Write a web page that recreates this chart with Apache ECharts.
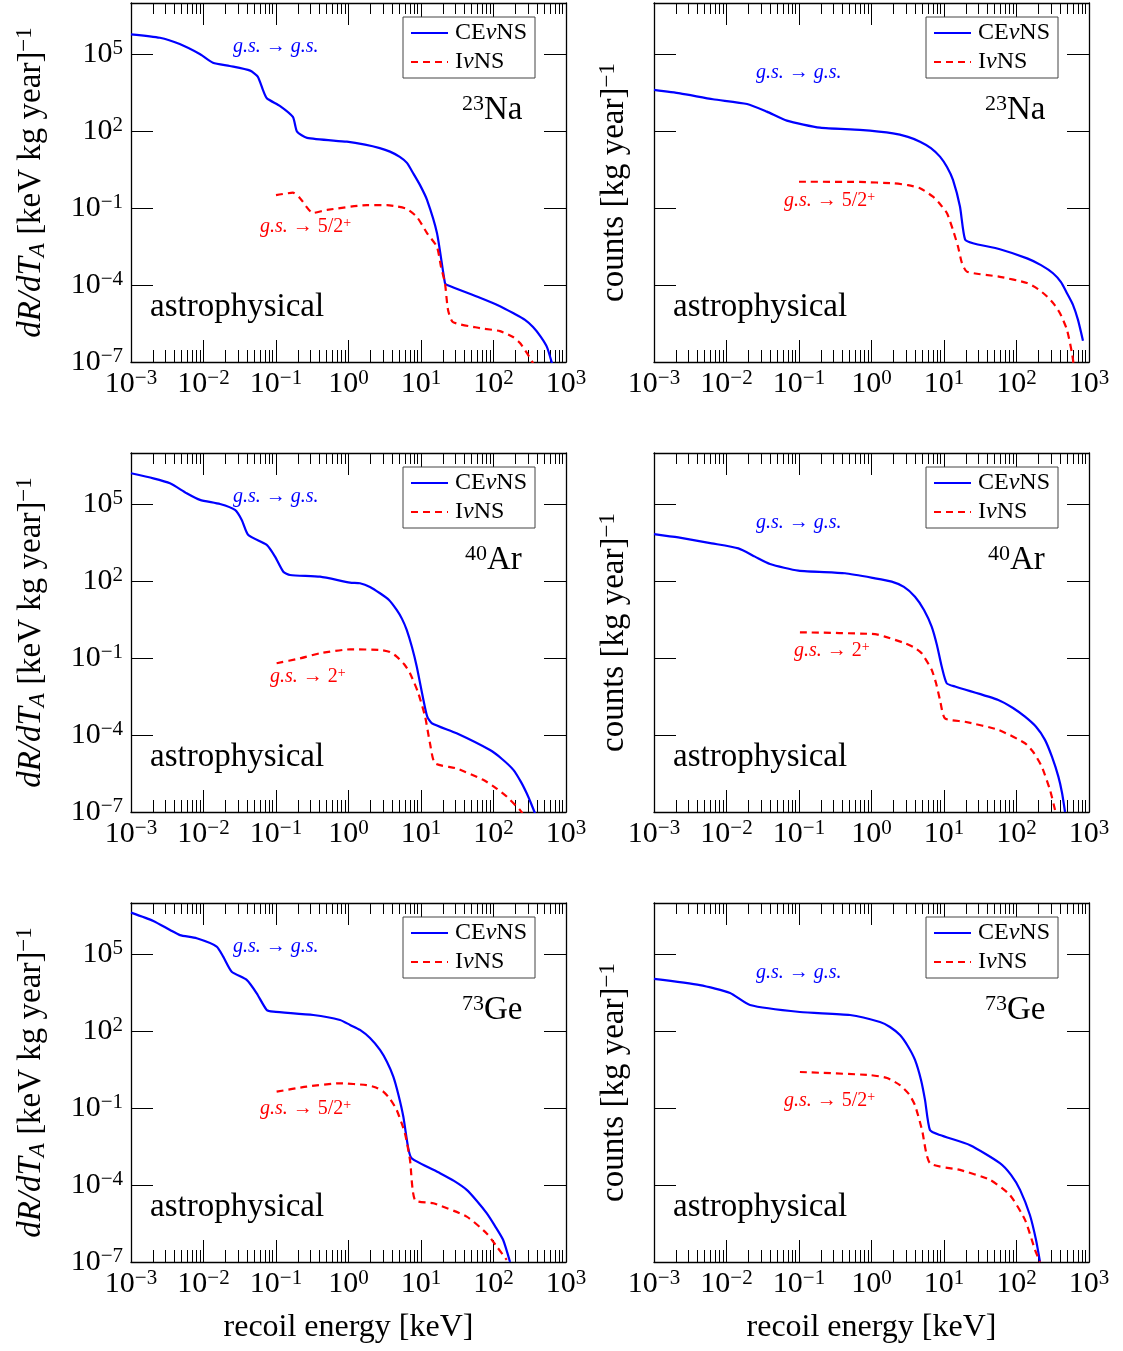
<!DOCTYPE html>
<html><head><meta charset="utf-8">
<script src="https://cdn.jsdelivr.net/npm/echarts@6/dist/echarts.min.js"></script>
<style>html,body{margin:0;padding:0;background:#fff}#c{width:1123px;height:1351px}</style>
</head><body><div id="c"></div>
<script>
// ---------------- DATA (recoil energy [keV], value) ----------------
const naRateCE = [[1e-3,6.0e5],[2.5e-3,4.4e5],[4.7e-3,2.5e5],[9.0e-3,1.0e5],[1.35e-2,4.7e4],[2.3e-2,3.5e4],[4.4e-2,2.3e4],[5.6e-2,1.35e4],[6.6e-2,4.1e3],[7.5e-2,1.9e3],[0.114,960],[0.171,360],[0.195,96],[0.268,55],[0.95,39],[1.69,30],[2.7,22],[3.73,16],[5.1,10],[6.4,5.8],[7.8,2.3],[9.7,0.79],[12.1,0.21],[16.6,0.0107],[21.4,1.2e-4],[22.9,1.0e-4],[65,3.2e-5],[123,1.5e-5],[186,8.1e-6],[272,4.4e-6],[351,2.3e-6],[452,9.4e-7],[547,3.8e-7],[640,9e-8]];
const naRateIN = [[0.1,0.32],[0.171,0.40],[0.213,0.25],[0.324,0.065],[0.505,0.085],[1.8,0.13],[3.4,0.13],[4.67,0.116],[6.4,0.093],[8.8,0.045],[12.1,0.0107],[16.6,3.1e-3],[18.9,5.1e-4],[21.4,1.2e-4],[23.6,1.07e-5],[27.6,3.6e-6],[65,2.1e-6],[123,1.6e-6],[186,9.4e-7],[232,5.5e-7],[290,2.2e-7],[351,9e-8]];
const naCountCE = [[1e-3,4.1e3],[2.29e-3,3.0e3],[6.5e-3,1.76e3],[1.92e-2,1.15e3],[3.6e-2,580],[6.8e-2,258],[0.195,137],[0.69,112],[1.98,83],[3.18,60],[4.67,39],[6.6,22],[8.8,10.2],[11,4.0],[13.3,1.26],[16.6,0.116],[19.5,6.1e-3],[25.1,4.3e-3],[59,2.5e-3],[140,1.1e-3],[218,6.0e-4],[319,2.9e-4],[411,1.3e-4],[497,4.8e-5],[601,1.7e-5],[705,4.4e-6],[826,6.8e-7]];
const naCountIN = [[0.1,1.07],[0.69,1.05],[1.98,0.93],[3.18,0.79],[4.67,0.6],[7.05,0.28],[8.8,0.145],[11,0.063],[13.3,0.014],[15.6,3.2e-3],[17.7,7.1e-4],[20.8,3.3e-4],[59,2.1e-4],[140,1.2e-4],[198,7.0e-5],[264,3.6e-5],[329,1.8e-5],[398,8e-6],[497,1.8e-6],[583,2.2e-7],[610,9e-8]];

const arRateCE = [[1e-3,1.62e6],[2.03e-3,1.03e6],[3.45e-3,6.6e5],[5.86e-3,2.7e5],[8.95e-3,1.48e5],[1.69e-2,1.02e5],[2.72e-2,6.0e4],[3.37e-2,2.45e4],[4.15e-2,6.3e3],[7.45e-2,2.6e3],[9.7e-2,910],[0.126,235],[0.156,175],[0.405,150],[1.05,88],[1.44,83],[1.98,60],[2.72,34],[3.62,18.6],[4.62,7.6],[5.47,3.4],[6.35,1.26],[7.5,0.27],[8.73,0.047],[10.8,2.35e-3],[12.2,5.2e-4],[14.1,2.9e-4],[31,1.17e-4],[89.5,2.6e-5],[131,1.17e-5],[188,4.4e-6],[239,1.5e-6],[287,5.4e-7],[329,2.2e-7],[373,9e-8]];
const arRateIN = [[0.102,0.063],[0.214,0.098],[0.405,0.155],[1.05,0.22],[2.72,0.21],[3.73,0.174],[4.62,0.115],[5.83,0.059],[7.05,0.026],[9.18,4.3e-3],[11.4,5.2e-4],[13.3,4.8e-5],[15.6,8e-6],[31,5e-6],[72,1.8e-6],[108,8.6e-7],[152,4e-7],[232,1.2e-7],[250,9e-8]];
const arCountCE = [[1e-3,6.9e3],[2.16e-3,5.1e3],[6.25e-3,3.0e3],[1.46e-2,1.9e3],[2.47e-2,910],[3.98e-2,470],[9.8e-2,258],[0.43,204],[1.12,130],[1.9,96],[2.8,60],[3.98,25],[5.3,7.6],[6.76,1.7],[8.0,0.32],[9.3,0.047],[10.9,0.0105],[14.2,7.8e-3],[56,2.35e-3],[89.5,1.14e-3],[131,5.2e-4],[186,2.1e-4],[247,6.5e-5],[309,1.4e-5],[378,2.4e-6],[425,5.5e-7],[467,1e-7]];
const arCountIN = [[0.103,1.02],[1.12,0.87],[1.53,0.69],[2.9,0.38],[3.86,0.26],[4.92,0.155],[6.76,0.035],[7.76,0.0107],[8.8,2.35e-3],[10.3,4.5e-4],[19.5,3.3e-4],[56,1.6e-4],[131,4.8e-5],[174,2.0e-5],[223,5.9e-6],[290,7.2e-7],[340,1.2e-7]];

const geRateCE = [[1e-3,4.2e6],[2.03e-3,2.0e6],[3.45e-3,8.9e5],[4.74e-3,5.6e5],[8.05e-3,4.2e5],[1.52e-2,2.0e5],[1.87e-2,8.1e4],[2.45e-2,2.1e4],[3.94e-2,1.0e4],[5.42e-2,3.0e3],[7.45e-2,675],[9.2e-2,580],[0.327,430],[0.764,275],[1.05,175],[1.44,112],[1.98,54],[2.72,18.6],[3.4,6.3],[4.15,1.7],[4.9,0.32],[5.7,0.047],[6.68,2.7e-3],[7.45,1.1e-3],[18.3,2.9e-4],[28.5,1.45e-4],[42.7,6.5e-5],[59,2.4e-5],[80.5,8e-6],[105,2.5e-6],[136,7.2e-7],[169,1e-7]];
const geRateIN = [[0.102,0.44],[0.265,0.69],[0.764,0.93],[1.78,0.79],[2.39,0.64],[3.02,0.44],[3.73,0.23],[4.62,0.085],[6.0,0.0105],[7.05,9.5e-4],[8.26,2.6e-5],[14.8,1.95e-5],[42.7,5.9e-6],[80.5,1.3e-6],[111,4e-7],[152,1.2e-7]];
const geCountCE = [[1e-3,1.1e4],[4.3e-3,6.3e3],[1.12e-2,3.1e3],[2.11e-2,1.05e3],[0.103,560],[0.505,430],[1.31,230],[1.8,146],[2.47,71],[3.18,26],[3.98,7.6],[4.82,1.26],[5.47,0.21],[6.4,0.014],[8.8,8.9e-3],[22.9,3.6e-3],[59,7.2e-4],[84,2.5e-4],[112,6.5e-5],[153,6.8e-6],[186,7.2e-7],[211,1e-7]];
const geCountIN = [[0.103,2.57],[0.95,1.95],[1.64,1.5],[2.47,0.79],[3.29,0.35],[3.98,0.13],[4.98,0.014],[6.4,7.2e-4],[16.6,3.9e-4],[43,1.6e-4],[81,4.1e-5],[131,4.4e-6],[180,3e-7],[211,1e-7]];

// tick values
const xMajorTicks = [1e-3,1e-2,1e-1,1e0,1e1,1e2,1e3];
const yMajorTicks = [1e-7,1e-4,1e-1,1e2,1e5];
const seriesNames = ['CEνNS','IνNS'];
const nuclei = [{mass:'23', el:'Na', trans:'5/2'},{mass:'40', el:'Ar', trans:'2'},{mass:'73', el:'Ge', trans:'5/2'}];
const rowData = [[naRateCE,naRateIN,naCountCE,naCountIN],[arRateCE,arRateIN,arCountCE,arCountIN],[geRateCE,geRateIN,geCountCE,geCountIN]];

// ---------------- LAYOUT ----------------
const FONT = '"Liberation Serif", "DejaVu Serif", serif';
const GL = [131, 654], GT = [3, 453, 903], GW = 435, GH = 359;
const xMinorTicks = [];
for (let k = -3; k < 3; k++) for (let m = 2; m <= 9; m++) xMinorTicks.push(+(m * Math.pow(10, k)).toPrecision(3));

function expLabel(v) {
  const e = Math.round(Math.log10(v));
  return '{b|10}{s|' + (e < 0 ? '\u2212' + (-e) : e) + '}';
}
const tickRich = {
  b: {fontFamily: FONT, fontSize: 30, lineHeight: 32, color: '#000'},
  s: {fontFamily: FONT, fontSize: 21, lineHeight: 20, verticalAlign: 'top', color: '#000'}
};
const nameRich = {
  i: {fontFamily: FONT, fontSize: 33, fontStyle: 'italic', color: '#000', lineHeight: 36},
  sub: {fontFamily: FONT, fontSize: 23, fontStyle: 'italic', color: '#000', verticalAlign: 'bottom', lineHeight: 26},
  r: {fontFamily: FONT, fontSize: 33, color: '#000', lineHeight: 36},
  sup: {fontFamily: FONT, fontSize: 23, color: '#000', verticalAlign: 'top', lineHeight: 22}
};

const grid = [], xAxis = [], yAxis = [], series = [], legend = [], graphic = [];
const lineBase = {color: '#000', width: 1.3};
const tickBase = {color: '#000', width: 1};

for (let r = 0; r < 3; r++) {
  for (let c = 0; c < 2; c++) {
    const gi = r * 2 + c;
    const gx = GL[c], gy = GT[r];
    grid.push({left: gx, top: gy, width: GW, height: GH, containLabel: false, outerBoundsMode: 'none'});
    const xc = {type: 'log', logBase: 10, min: 1e-3, max: 1e3, gridIndex: gi, splitLine: {show: false}, minorTick: {show: false}, minorSplitLine: {show: false}};
    xAxis.push(Object.assign({}, xc, {
      position: 'bottom',
      axisLine: {show: true, onZero: false, lineStyle: lineBase},
      axisTick: {show: true, inside: true, length: 22, customValues: xMajorTicks, lineStyle: tickBase},
      axisLabel: {show: true, customValues: xMajorTicks, margin: 6, formatter: expLabel, rich: tickRich},
      name: r === 2 ? 'recoil energy [keV]' : '',
      nameLocation: 'middle', nameGap: 50,
      nameTextStyle: {fontFamily: FONT, fontSize: 32, color: '#000'}
    }));
    xAxis.push(Object.assign({}, xc, {
      position: 'bottom', axisLine: {show: false, onZero: false},
      axisTick: {show: true, inside: true, length: 12, customValues: xMinorTicks, lineStyle: tickBase},
      axisLabel: {show: false}
    }));
    xAxis.push(Object.assign({}, xc, {
      position: 'top', axisLine: {show: true, onZero: false, lineStyle: lineBase},
      axisTick: {show: true, inside: true, length: 22, customValues: xMajorTicks, lineStyle: tickBase},
      axisLabel: {show: false}
    }));
    xAxis.push(Object.assign({}, xc, {
      position: 'top', axisLine: {show: false, onZero: false},
      axisTick: {show: true, inside: true, length: 11, customValues: xMinorTicks, lineStyle: tickBase},
      axisLabel: {show: false}
    }));
    const yc = {type: 'log', logBase: 10, min: 1e-7, max: 1e7, gridIndex: gi, splitLine: {show: false}, minorTick: {show: false}};
    yAxis.push(Object.assign({}, yc, {
      position: 'left',
      axisLine: {show: true, onZero: false, lineStyle: lineBase},
      axisTick: {show: true, inside: true, length: 22, customValues: yMajorTicks, lineStyle: tickBase},
      axisLabel: {show: c === 0, customValues: yMajorTicks, margin: 8, formatter: expLabel, rich: tickRich},
      name: c === 0 ? '{i|dR/dT}{sub|A}{r| [keV kg year]}{sup|\u22121}' : '{r|counts [kg year]}{sup|\u22121}',
      nameLocation: 'middle', nameRotate: 90, nameGap: c === 0 ? 82 : 22,
      nameTextStyle: {fontFamily: FONT, fontSize: 33, color: '#000', rich: nameRich}
    }));
    yAxis.push(Object.assign({}, yc, {
      position: 'right',
      axisLine: {show: true, onZero: false, lineStyle: lineBase},
      axisTick: {show: true, inside: true, length: 22, customValues: yMajorTicks, lineStyle: tickBase},
      axisLabel: {show: false}
    }));
    const d = rowData[r];
    const ce = c === 0 ? d[0] : d[2];
    const inel = c === 0 ? d[1] : d[3];
    series.push({
      type: 'line', name: seriesNames[0], xAxisIndex: gi * 4, yAxisIndex: gi * 2, data: ce,
      showSymbol: false, symbol: 'none', smooth: 0.2, clip: true,
      lineStyle: {color: '#0000ff', width: 2.2}, itemStyle: {color: '#0000ff'}, z: 3
    });
    series.push({
      type: 'line', name: seriesNames[1], xAxisIndex: gi * 4, yAxisIndex: gi * 2, data: inel,
      showSymbol: false, symbol: 'none', smooth: 0.2, clip: true,
      lineStyle: {color: '#ff0000', width: 2.2, type: [7, 5]}, itemStyle: {color: '#ff0000'}, z: 4
    });
    legend.push({
      left: gx + 272, top: gy + 14, orient: 'vertical', selectedMode: false,
      data: seriesNames, itemWidth: 37, itemHeight: 14, itemGap: 5,
      padding: [4, 8, 4, 7], borderColor: '#444', borderWidth: 1, borderRadius: 0, backgroundColor: '#fff',
      itemStyle: {color: 'rgba(0,0,0,0)', borderColor: 'rgba(0,0,0,0)', borderWidth: 0},
      textStyle: {fontFamily: FONT, fontSize: 24, color: '#000', padding: [0, 0, 0, 2],
        rich: {n: {fontFamily: FONT, fontSize: 24, color: '#000'}, i: {fontFamily: FONT, fontSize: 24, fontStyle: 'italic', color: '#000'}}},
      formatter: function (name) { return name === 'CEνNS' ? '{n|CE}{i|ν}{n|NS}' : '{n|I}{i|ν}{n|NS}'; }
    });
    // annotations
    const nu = nuclei[r];
    graphic.push({
      type: 'text', x: gx + 102, y: gy + (c === 0 ? 44 : 70), z: 50,
      style: {text: 'g.s. \u2192 g.s.', fontFamily: FONT, fontSize: 20, fontStyle: 'italic', fill: '#0000ff', verticalAlign: 'middle'}
    });
    const tx = (r === 1 ? 139 : 129) + c;
    const ty = c === 1 ? 198 : (r === 2 ? 206 : 224);
    graphic.push({
      type: 'text', x: gx + tx, y: gy + ty, z: 50,
      style: {text: '{i|g.s.}{n| \u2192 ' + nu.trans + '}{s|+}', fill: '#ff0000', verticalAlign: 'middle',
        rich: {
          i: {fontFamily: FONT, fontSize: 20, fontStyle: 'italic', fill: '#ff0000', lineHeight: 22},
          n: {fontFamily: FONT, fontSize: 20, fill: '#ff0000', lineHeight: 22},
          s: {fontFamily: FONT, fontSize: 14, fill: '#ff0000', verticalAlign: 'top', lineHeight: 12}
        }}
    });
    graphic.push({
      type: 'text', x: gx + (r === 1 ? 334 : 331), y: gy + 107, z: 50,
      style: {text: '{s|' + nu.mass + '}{b|' + nu.el + '}', verticalAlign: 'middle', fill: '#000',
        rich: {
          b: {fontFamily: FONT, fontSize: 33, fill: '#000', lineHeight: 34},
          s: {fontFamily: FONT, fontSize: 22, fill: '#000', verticalAlign: 'top', lineHeight: 20}
        }}
    });
    graphic.push({
      type: 'text', x: gx + 19, y: gy + 304, z: 50,
      style: {text: 'astrophysical', fontFamily: FONT, fontSize: 33, fill: '#000', verticalAlign: 'middle'}
    });
  }
}

const chart = echarts.init(document.getElementById('c'), null, {renderer: 'canvas'});
chart.setOption({
  animation: false, backgroundColor: '#fff',
  grid, xAxis, yAxis, series, legend, graphic
});
</script></body></html>
